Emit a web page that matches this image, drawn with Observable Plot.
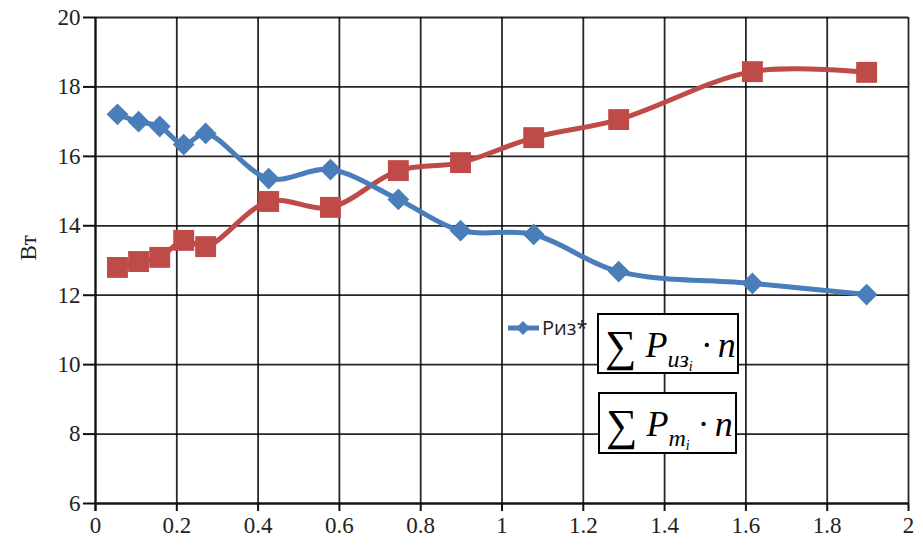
<!DOCTYPE html>
<html><head><meta charset="utf-8">
<script src="https://cdn.jsdelivr.net/npm/d3@7"></script>
<script src="https://cdn.jsdelivr.net/npm/@observablehq/plot@0.6"></script>
<style>
body{margin:0;background:#fff;}
#wrap{position:relative;width:923px;height:549px;}
.box{position:absolute;border:2px solid #000;background:#fff;font-family:"Liberation Serif",serif;color:#000;box-sizing:border-box;white-space:nowrap;}
.sig{font-size:44px;font-style:normal;position:relative;top:4px;}
.p{font-style:italic;font-size:36px;}
.sub{font-style:italic;font-size:24px;}
.subsub{font-style:italic;font-size:14px;}
.legend{position:absolute;font-family:"Open Sans",sans-serif;font-size:20px;color:#222;}
</style></head>
<body><div id="wrap"></div>
<script>
const xs = [0.054, 0.106, 0.158, 0.217, 0.271, 0.426, 0.578, 0.745, 0.898, 1.078, 1.287, 1.616, 1.897];
const riz = [17.21, 17.0, 16.86, 16.34, 16.66, 15.36, 15.62, 14.76, 13.86, 13.75, 12.68, 12.34, 12.02];
const pt = [12.80, 12.97, 13.09, 13.58, 13.40, 14.70, 14.53, 15.59, 15.82, 16.54, 17.06, 18.44, 18.42];
const xTicks = [0, 0.2, 0.4, 0.6, 0.8, 1, 1.2, 1.4, 1.6, 1.8, 2];
const yTicks = [6, 8, 10, 12, 14, 16, 18, 20];
const yLabel = "Вт";
const legendLabel = "Риз*";

const blue = "#4a7ebb", red = "#be4b48";
const dRiz = xs.map((x, i) => ({x, y: riz[i]}));
const dPt = xs.map((x, i) => ({x, y: pt[i]}));
const serif = "Liberation Serif";

const chart = Plot.plot({
  width: 923, height: 549,
  marginLeft: 95, marginRight: 15, marginTop: 17, marginBottom: 46,
  style: {fontFamily: serif, fontSize: "23px", color: "#1a1a1a", background: "#fff"},
  x: {domain: [0, 2], axis: null},
  y: {domain: [6, 20], axis: null},
  marks: [
    Plot.gridX(xTicks, {stroke: "#000", strokeOpacity: 0.85, strokeWidth: 1.8}),
    Plot.gridY(yTicks, {stroke: "#000", strokeOpacity: 0.85, strokeWidth: 1.8}),
    Plot.ruleX(xTicks, {x: d => d, y1: 6, y2: 6, insetBottom: -8, stroke: "#111", strokeWidth: 2}),
    Plot.ruleY(yTicks, {y: d => d, x1: 0, x2: 0, insetLeft: -12, stroke: "#111", strokeWidth: 2}),
    Plot.ruleX([0], {stroke: "#111", strokeWidth: 2, insetBottom: -8}),
    Plot.ruleY([6], {stroke: "#111", strokeWidth: 2}),
    Plot.text(xTicks, {x: d => d, frameAnchor: "bottom", dy: 29, text: d => String(d), fontFamily: serif, fontSize: 23, fill: "#222"}),
    Plot.text(yTicks, {y: d => d, frameAnchor: "left", dx: -15, textAnchor: "end", text: d => String(d), fontFamily: serif, fontSize: 23, fill: "#222"}),
    Plot.line(dPt, {x: "x", y: "y", stroke: red, strokeWidth: 5, curve: "catmull-rom"}),
    Plot.line(dRiz, {x: "x", y: "y", stroke: blue, strokeWidth: 5, curve: "catmull-rom"}),
    Plot.dot(dPt, {x: "x", y: "y", symbol: "square", r: 11.8, fill: red, stroke: "none"}),
    Plot.dot(dRiz, {x: "x", y: "y", symbol: "diamond2", r: 9.8, fill: blue, stroke: "none"}),
    Plot.text([yLabel], {frameAnchor: "left", dx: -67, rotate: -90, fontFamily: serif, fontSize: 23, fill: "#222"})
  ]
});
const wrap = document.getElementById("wrap");
wrap.appendChild(chart);

const leg = document.createElement("div");
leg.className = "legend";
leg.style.left = "506px"; leg.style.top = "312px";
leg.innerHTML = `<svg width="36" height="20" style="vertical-align:middle"><line x1="2" y1="10" x2="33" y2="10" stroke="${blue}" stroke-width="5"/><path d="M17 3L24 10L17 17L10 10Z" fill="${blue}"/></svg><span style="vertical-align:middle">${legendLabel}</span>`;
wrap.appendChild(leg);

function box(left, top, w, h, subHtml) {
  const b = document.createElement("div");
  b.className = "box";
  b.style.left = left + "px"; b.style.top = top + "px";
  b.style.width = w + "px"; b.style.height = h + "px";
  b.style.padding = "2px 0 0 6px";
  b.innerHTML = `<span class="sig">∑</span><span class="p">&nbsp;P</span>${subHtml}<span class="p">&nbsp;·&thinsp;n</span>`;
  wrap.appendChild(b);
}
box(597, 313, 142, 61, `<span class="sub" style="position:relative;top:10px">из<span class="subsub" style="position:relative;top:4px">i</span></span>`);
box(598, 392, 139, 62, `<span class="sub" style="position:relative;top:10px">m<span class="subsub" style="position:relative;top:4px">i</span></span>`);
</script></body></html>
